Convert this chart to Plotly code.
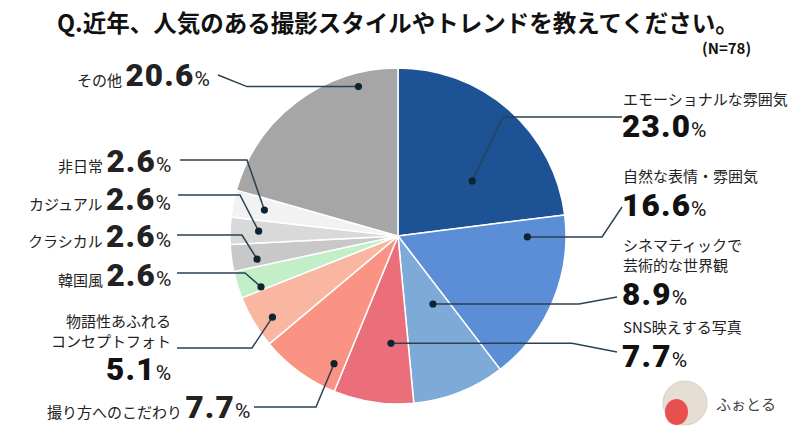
import numpy as np
import plotly.graph_objects as go

# ---------------- data ----------------
labels = ["エモーショナルな雰囲気", "自然な表情・雰囲気", "シネマティックで芸術的な世界観",
          "SNS映えする写真", "撮り方へのこだわり", "物語性あふれるコンセプトフォト",
          "韓国風", "クラシカル", "カジュアル", "非日常", "その他"]
values = [23.0, 16.6, 8.9, 7.7, 7.7, 5.1, 2.6, 2.6, 2.6, 2.6, 20.6]
colors = ["#1d5394", "#5b8ed6", "#7eaad8", "#ea6f7a", "#fa9384", "#f9b6a0",
          "#c3efc8", "#c8c8c8", "#d9d9d9", "#f2f2f2", "#a6a6a6"]
title_text = "Q.近年、人気のある撮影スタイルやトレンドを教えてください。"
n_text = "(N=78)"

# ---------------- layout helpers ----------------
W, H = 800, 448
CX, CY, R = 398, 236, 168
FONT = "Noto Sans CJK JP"
NUM_FONT = "Roboto"
LINE_COLOR = "#2a4252"
NUM_SIZE = 31.5
PCT_SIZE = 21
LAB_SIZE = 15


def px(x):
    return x / W


def py(y):
    return 1 - y / H


# dot placement: (fraction of slice angle, fraction of radius)
dot_spec = [(0.645, 0.55), (0.127, 0.77), (0.32, 0.455), (0.33, 0.64), (0.155, 0.85),
            (0.385, 0.89), (0.13, 0.87), (0.31, 0.85), (0.52, 0.83), (0.48, 0.81),
            (0.80, 0.92)]
# leader: start point (pixels), elbow x, mode
leader_spec = [((622, 117), 503, "hfirst"), ((622, 207), 602, "hlast"),
               ((617, 297), 579, "hlast"), ((617, 352), 572, "hlast"),
               ((254, 407), 316, "hfirst"), ((177, 348), 252, "hfirst"),
               ((177, 273), 245, "hfirst"), ((177, 235), 242, "hfirst"),
               ((178, 195), 240, "hfirst"), ((180, 160), 247, "hfirst"),
               ((218, 75), 247, "hlast")]

total = sum(values)
cum = np.concatenate([[0], np.cumsum(values)]) / total * 360.0

fig = go.Figure()
fig.add_trace(go.Pie(
    labels=labels, values=values, sort=False, direction="clockwise", rotation=0,
    marker=dict(colors=colors, line=dict(color="white", width=1.5)),
    textinfo="none", hoverinfo="label+percent", showlegend=False,
    domain=dict(x=[px(CX - R), px(CX + R)], y=[py(CY + R), py(CY - R)]),
))

shapes = []
for i, v in enumerate(values):
    fa, fr = dot_spec[i]
    th = np.deg2rad(cum[i] + fa * (cum[i + 1] - cum[i]))
    dx = CX + fr * R * np.sin(th)
    dy = CY - fr * R * np.cos(th)
    (sx, sy), ex, mode = leader_spec[i]
    ey = sy if mode == "hfirst" else dy
    path = f"M {px(sx)},{py(sy)} L {px(ex)},{py(ey)} L {px(dx)},{py(dy)}"
    shapes.append(dict(type="path", xref="paper", yref="paper", path=path,
                       line=dict(color=LINE_COLOR, width=1.5)))
    rr = 3.6
    shapes.append(dict(type="circle", xref="paper", yref="paper",
                       x0=px(dx - rr), x1=px(dx + rr), y0=py(dy + rr), y1=py(dy - rr),
                       fillcolor="#0f2431", line=dict(width=0)))


def num_html(v):
    return (f"<span style='font-size:{NUM_SIZE}px;font-weight:900;letter-spacing:1.2px'>{v:.1f}</span>"
            f"<span style='font-size:{PCT_SIZE}px'>%</span>")


def lab_html(t):
    return f"<span style='font-family:{FONT};font-size:{LAB_SIZE}px'>{t} </span>"


annotations = []


def add(text, x, y, xanchor, yanchor="middle", size=LAB_SIZE, align="left", color="#222",
        family=FONT):
    annotations.append(dict(text=text, x=px(x), y=py(y), xref="paper", yref="paper",
                            xanchor=xanchor, yanchor=yanchor, showarrow=False, align=align,
                            font=dict(family=family, size=size, color=color)))


# right side (label above, number below)
right_pos = {0: (98, 127), 1: (175, 205), 2: (254, 294), 3: (326, 356)}
right_text = {0: labels[0], 1: labels[1], 2: "シネマティックで<br>芸術的な世界観", 3: labels[3]}
for i, (ly, ny) in right_pos.items():
    add(right_text[i], 621, ly, "left")
    add(num_html(values[i]), 620, ny, "left", color="#111", family=NUM_FONT, size=NUM_SIZE)

# left rows (label + number on one line)
row_pos = {10: (212, 75), 9: (173, 162), 8: (173, 199), 7: (173, 237), 6: (173, 275),
           4: (252, 407)}
for i, (rx, ry) in row_pos.items():
    add(lab_html(labels[i]) + num_html(values[i]), rx, ry, "right", color="#222",
        family=NUM_FONT, size=NUM_SIZE)

# 物語性 (two-line label, number below)
add("物語性あふれる<br>コンセプトフォト", 173, 330, "right", align="right")
add(num_html(values[5]), 173, 369, "right", color="#111", family=NUM_FONT, size=NUM_SIZE)

# title and N
annotations.append(dict(text=f"<b>{title_text}</b>", x=px(398), y=py(22), xref="paper", yref="paper",
                        xanchor="center", yanchor="middle", showarrow=False,
                        font=dict(family=FONT, size=23.5, color="#111")))
annotations.append(dict(text=f"<b>{n_text}</b>", x=px(753), y=py(48), xref="paper", yref="paper",
                        xanchor="right", yanchor="middle", showarrow=False,
                        font=dict(family=FONT, size=15, color="#111")))

# logo
shapes.append(dict(type="circle", xref="paper", yref="paper",
                   x0=px(663), x1=px(707), y0=py(425), y1=py(381),
                   fillcolor="#e6ded2", line=dict(color="#d8d0c4", width=1)))
shapes.append(dict(type="circle", xref="paper", yref="paper",
                   x0=px(665), x1=px(688), y0=py(425), y1=py(399),
                   fillcolor="#e8504f", line=dict(width=0)))
annotations.append(dict(text="ふぉとる", x=px(714), y=py(403), xref="paper", yref="paper",
                        xanchor="left", yanchor="middle", showarrow=False,
                        font=dict(family=FONT, size=15, color="#444")))

fig.update_layout(width=W, height=H, margin=dict(l=0, r=0, t=0, b=0),
                  paper_bgcolor="white", plot_bgcolor="white",
                  shapes=shapes, annotations=annotations)
fig.write_html("out.html", config={"displayModeBar": False},
               post_script="document.body.style.margin='0';document.body.style.overflow='hidden';")
